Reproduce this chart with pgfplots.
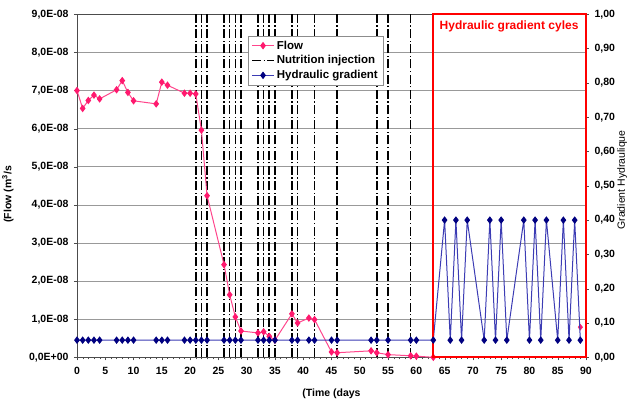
\documentclass[border=0pt]{standalone}
\usepackage{fontspec}
\setmainfont{Liberation Sans}
\usepackage{pgfplots}
\pgfplotsset{compat=1.18}
\definecolor{flowc}{RGB}{255,25,110}
\definecolor{flowl}{RGB}{255,70,140}
\definecolor{hydm}{RGB}{0,0,128}
\definecolor{hydl}{RGB}{60,60,180}
\tikzset{nutr/.style={black, line width=1.6pt, dash pattern=on 9pt off 2.5pt on 1.2pt off 2.5pt}}
\begin{document}
\begin{tikzpicture}
\path[use as bounding box] (-77pt,-43.7pt) rectangle (553pt,357.3pt);
\begin{axis}[
  at={(0,0)}, anchor=south west,
  scale only axis, width=509pt, height=343pt,
  xmin=0, xmax=90, ymin=0, ymax=9e-8,
  clip=false, scaled y ticks=false,
  xtick={0,5,...,90}, minor x tick num=4,
  ytick={0,1e-8,2e-8,3e-8,4e-8,5e-8,6e-8,7e-8,8e-8,9e-8},
  yticklabels={{0,0E+00},{1,0E-08},{2,0E-08},{3,0E-08},{4,0E-08},{5,0E-08},{6,0E-08},{7,0E-08},{8,0E-08},{9,0E-08}},
  xtick pos=left, ytick pos=left,
  tick align=outside,
  major tick length=3pt, minor tick length=2pt,
  ymajorgrids, grid style={black!40, line width=0.6pt},
  axis line style={black!70, line width=0.8pt},
  tick style={black!70},
  /pgf/number format/assume math mode=true,
  tick label style={font=\fontsize{10.5}{12}\selectfont\bfseries},
  yticklabel style={xshift=-2pt},
  xticklabel style={yshift=-3pt},
  ylabel={(Flow (m\textsuperscript{3}/s},
  ylabel style={at={(axis description cs:-0.1356,0.475)}, anchor=center, font=\fontsize{10.5}{12}\selectfont\bfseries},
  xlabel={(Time (days},
  xlabel style={at={(axis description cs:0.5,-0.107)}, anchor=center, font=\fontsize{10.5}{12}\selectfont\bfseries},
  legend style={at={(0.336,0.938)}, anchor=north west, draw=black!45, fill=white,
    font=\fontsize{11.5}{13}\selectfont\bfseries, row sep=1pt, inner sep=3pt},
  legend cell align=left,
  legend image code/.code={\draw[mark repeat=2,mark phase=2,#1] plot coordinates {(0pt,0pt) (11pt,0pt) (22pt,0pt)};},
]
\addplot[nutr, ycomb, forget plot] coordinates {
(21,9e-8) (22,9e-8) (23,9e-8) (26,9e-8) (27,9e-8) (28,9e-8) (29,9e-8)
(32,9e-8) (33,9e-8) (34,9e-8) (35,9e-8) (38,9e-8) (39,9e-8) (42,9e-8)
(46,9e-8) (53,9e-8) (55,9e-8) (59,9e-8)};
\addplot[flowl, line width=1pt, mark=diamond*, mark size=3pt,
  mark options={fill=flowc, draw=flowc, solid}] coordinates {
(0,7.00e-8) (1,6.53e-8) (2,6.74e-8) (3,6.88e-8) (4,6.78e-8)
(7,7.02e-8) (8,7.26e-8) (9,6.95e-8) (10,6.73e-8)
(14,6.65e-8) (15,7.22e-8) (16,7.14e-8)
(19,6.93e-8) (20,6.93e-8) (21,6.91e-8) (22,5.96e-8) (23,4.24e-8)
(26,2.43e-8) (27,1.64e-8) (28,1.06e-8) (29,0.69e-8)
(32,0.64e-8) (33,0.67e-8) (34,0.55e-8) (35,0.45e-8)
(38,1.14e-8) (39,0.90e-8) (41,1.03e-8) (42,0.99e-8)
(45,0.14e-8) (46,0.12e-8) (52,0.17e-8) (53,0.12e-8) (55,0.07e-8)
(59,0.04e-8) (60,0.03e-8) (63,0.0)};
\addlegendimage{nutr}
\addlegendimage{hydl, line width=1pt, mark=diamond*, mark size=3pt, mark options={fill=hydm, draw=hydm}}
\legend{Flow, Nutrition injection, Hydraulic gradient}
\addplot[only marks, mark=diamond*, mark size=3pt, mark options={fill=flowc, draw=flowc}, forget plot] coordinates {(89,0.79e-8)};
\end{axis}
\begin{axis}[
  at={(0,0)}, anchor=south west,
  scale only axis, width=509pt, height=343pt,
  xmin=0, xmax=90, ymin=0, ymax=1,
  clip=false,
  axis x line=none, axis y line*=right,
  ytick={0,0.1,0.2,0.3,0.4,0.5,0.6,0.7,0.8,0.9,1},
  yticklabels={{0,00},{0,10},{0,20},{0,30},{0,40},{0,50},{0,60},{0,70},{0,80},{0,90},{1,00}},
  tick align=outside, major tick length=3pt,
  axis line style={black!70, line width=0.8pt},
  tick style={black!70},
  tick label style={font=\fontsize{10.5}{12}\selectfont\bfseries},
  yticklabel style={xshift=2pt},
  ylabel={Gradient Hydraulique},
  ylabel style={at={(axis description cs:1.0708,0.517)}, anchor=center, font=\fontsize{10.5}{12}\selectfont},
]
\addplot[hydl, line width=1pt, mark=diamond*, mark size=3pt, mark options={fill=hydm, draw=hydm}] coordinates {
(0,0.05) (1,0.05) (2,0.05) (3,0.05) (4,0.05) (7,0.05) (8,0.05) (9,0.05) (10,0.05)
(14,0.05) (15,0.05) (16,0.05) (19,0.05) (20,0.05) (21,0.05) (22,0.05) (23,0.05)
(26,0.05) (27,0.05) (28,0.05) (29,0.05) (32,0.05) (33,0.05) (34,0.05) (35,0.05)
(38,0.05) (39,0.05) (41,0.05) (42,0.05) (45,0.05) (46,0.05) (52,0.05) (53,0.05)
(55,0.05) (59,0.05) (60,0.05) (63,0.05)
(65,0.40) (66,0.05) (67,0.40) (68,0.05) (69,0.40) (72,0.05) (73,0.40) (74,0.05)
(75,0.40) (76,0.05) (79,0.40) (80,0.05) (81,0.40) (82,0.05) (83,0.40) (85,0.05)
(86,0.40) (87,0.05) (88,0.40) (89,0.05)};
\draw[red, line width=1.8pt] (axis cs:63,0) -- (axis cs:63,1) -- (axis cs:90,1) -- (axis cs:90,0) -- cycle;
\node[red, font=\fontsize{12}{14}\selectfont\bfseries] at (axis cs:76.4,0.965) {Hydraulic gradient cyles};
\end{axis}
\end{tikzpicture}
\end{document}
